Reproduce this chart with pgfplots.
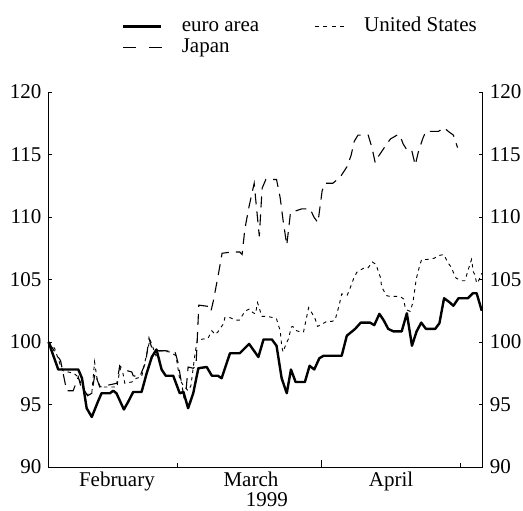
\documentclass[border=0pt]{standalone}
\usepackage{pgfplots}
\pgfplotsset{compat=1.18}
\usepackage{fontspec}
\setmainfont{Liberation Serif}
\newcommand{\bigfont}{\fontsize{21}{25}\selectfont}
\pgfplotsset{
  legA/.style={legend image code/.code={\draw[black, line width=2.4pt] (0pt,0pt) -- (38pt,0pt);}},
  legB/.style={legend image code/.code={\draw[black, line width=0.9pt, dash pattern=on 4pt off 4.5pt] (0pt,0pt) -- (30pt,0pt);}},
  legC/.style={legend image code/.code={\draw[black, line width=1.1pt, dash pattern=on 13pt off 13pt] (0pt,0pt) -- (39pt,0pt);}},
}
\begin{document}
\begin{tikzpicture}
\path[use as bounding box] (-48.5pt,-44pt) rectangle (474.5pt,467pt);
\pgfplotsset{
  common/.style={
    at={(0pt,0pt)}, anchor=south west,
    width=434.2pt, height=375pt, scale only axis,
    xmin=0.4, xmax=93.7, ymin=90, ymax=120,
    ytick={90,95,100,105,110,115,120},
    yticklabel={\rmfamily\pgfmathprintnumber[assume math mode=true]{\tick}},
    tick align=inside,
    major tick length=3.5pt,
    tick style={black, line width=0.7pt},
    axis line style={black, line width=0.8pt},
    tick label style={font=\bigfont},
    /pgf/number format/assume math mode=true,
  }
}
\begin{axis}[common,
  axis x line*=bottom, axis y line*=left,
  xtick={28,89}, xticklabels={},
  extra x ticks={59}, extra x tick labels={},
  extra x tick style={major tick length=7pt},
  yticklabel style={inner sep=0pt, xshift=-7pt},
  clip=false,
  legend columns=2,
  legend cell align=left,
  legend style={draw=none, fill=none, font=\bigfont,
    at={(0.162,1.207)}, anchor=north west,
    nodes={inner sep=0pt, text height=15pt, text depth=5pt},
    row sep=1pt,
    /tikz/every odd column/.append style={column sep=19pt},
    /tikz/every even column/.append style={column sep=55pt},
  },
]
% euro area
\addplot[forget plot, black, line width=2.4pt, line join=round] coordinates {
(0.4,100.0) (2.5,97.8) (6.8,97.8) (7.6,97.1) (8.6,94.7) (9.7,94.0) (11.1,95.3) (11.8,95.9)
(13.6,95.9) (14.3,96.1) (15.0,95.9) (16.6,94.6) (17.5,95.2) (18.6,96.0) (20.4,96.0) (21.5,97.5)
(22.6,98.8) (23.6,99.4) (24.7,97.8) (25.6,97.3) (27.2,97.3) (28.1,96.4) (28.6,95.9) (29.4,96.0)
(30.4,94.7) (31.5,95.9) (32.6,97.9) (34.4,98.0) (35.5,97.3) (36.8,97.3) (37.6,97.1) (39.4,99.1)
(41.5,99.1) (43.5,99.85) (45.5,98.8) (46.6,100.2) (48.4,100.2) (49.4,99.7) (50.5,97.1) (51.6,95.9)
(52.5,97.8) (53.5,96.8) (55.5,96.8) (56.5,98.1) (57.5,97.8) (58.6,98.7) (59.5,98.9) (63.4,98.9)
(64.5,100.5) (66.3,101.05) (67.5,101.55) (69.5,101.55) (70.4,101.35) (71.5,102.25) (72.4,101.75)
(73.4,101.05) (74.5,100.85) (76.3,100.85) (77.4,102.3) (78.5,99.7) (79.5,100.85) (80.5,101.55)
(81.5,101.05) (83.5,101.05) (84.4,101.5) (85.4,103.5) (86.5,103.2) (87.4,102.9) (88.5,103.5)
(90.5,103.5) (91.6,103.9) (92.4,103.9) (93.5,102.5)
};
% United States
\addplot[forget plot, black, line width=0.9pt, dash pattern=on 3.5pt off 4pt] coordinates {
(0.4,100.0) (1.7,99.5) (2.9,98.2) (3.5,97.7) (5.8,97.5) (6.8,97.2) (7.6,96.5) (8.6,95.8) (9.7,95.9)
(10.3,98.4) (10.9,96.9) (11.6,96.4) (13.6,96.4) (15.1,96.4) (15.8,97.9) (16.4,97.5) (16.8,96.7)
(18.3,96.8) (19.3,97.1) (20.4,97.2) (21.3,98.7) (22.2,100.2) (22.9,99.5) (23.5,98.9) (24.3,99.3)
(26.5,99.2) (27.8,98.9) (28.6,97.0) (29.4,96.5) (29.7,96.4) (30.4,96.1) (31.0,96.5) (31.9,99.1)
(32.4,100.2) (33.0,100.2) (34.7,100.3) (35.5,100.9) (36.2,100.6) (36.8,100.8) (37.2,101.05)
(38.0,101.45) (38.3,101.95) (39.4,101.95) (40.5,101.75) (41.4,101.75) (42.1,102.15) (42.6,102.45)
(43.6,102.65) (44.3,102.35) (44.9,102.25) (45.3,103.15) (45.6,102.85) (46.2,102.05) (47.3,102.05)
(48.7,101.95) (49.4,101.85) (49.8,101.35) (50.2,100.9) (50.5,99.7) (50.8,99.2) (51.4,99.8)
(51.9,100.2) (52.6,101.2) (52.9,101.25) (53.4,100.95) (54.5,100.8) (55.2,100.8) (55.9,102.05)
(56.3,102.75) (56.8,102.45) (57.7,101.85) (58.2,101.25) (58.8,101.35) (60.2,101.65) (61.3,101.65)
(62.0,101.75) (62.4,102.35) (62.8,102.85) (63.4,103.85) (64.6,103.75) (65.1,104.2) (65.6,104.7)
(66.1,105.2) (66.7,105.6) (68.1,105.9) (69.0,105.9) (70.0,106.4) (70.4,106.3) (70.8,106.2)
(71.3,105.6) (71.7,105.2) (72.0,104.4) (72.6,104.0) (73.1,103.7) (73.8,103.65) (74.9,103.65)
(75.9,103.65) (76.7,103.45) (77.0,102.85) (77.5,102.55) (78.1,102.45) (78.7,103.15) (79.0,103.9)
(79.4,105.0) (79.8,105.6) (80.3,106.3) (80.6,106.6) (81.7,106.6) (83.3,106.7) (84.1,106.9)
(85.3,107.0) (85.6,106.8) (86.3,106.3) (86.9,106.0) (87.6,105.4) (88.0,105.1) (89.2,104.9)
(89.9,104.9) (90.6,105.8) (91.3,106.6) (91.7,105.6) (92.0,105.4) (92.4,104.7) (92.7,104.8) (93.5,105.5)
};
% Japan
\addplot[forget plot, black, line width=1.1pt, dash pattern=on 11pt off 7pt] coordinates {
(0.4,100.0) (3.0,98.5) (4.3,96.1) (5.7,96.1) (6.8,97.2) (7.4,96.4) (8.0,96.2) (8.8,95.7) (9.7,95.9)
(10.4,97.5) (11.4,96.4) (15.1,96.7) (15.7,98.1) (16.4,97.8) (18.3,97.6) (18.6,97.3) (20.0,97.2)
(21.3,98.4) (22.0,100.3) (22.6,99.5) (23.9,99.3) (25.6,99.3) (27.6,99.2) (28.2,98.4) (28.9,96.9)
(29.5,95.6) (29.9,95.9) (30.4,98.0) (31.5,97.9) (32.1,98.1) (32.7,102.95) (34.7,102.85) (35.3,102.45)
(35.8,103.25) (36.8,105.2) (37.7,107.1) (39.8,107.2) (41.5,107.2) (42.0,107.0) (42.6,109.05)
(43.5,110.85) (44.6,112.7) (44.9,111.5) (45.7,108.45) (46.3,112.3) (47.1,113.0) (49.4,113.0)
(50.2,111.5) (50.8,109.75) (51.6,107.75) (52.4,110.35) (54.8,110.65) (56.6,110.65) (57.5,109.95)
(58.3,109.55) (59.2,112.1) (59.8,112.7) (61.5,112.7) (63.1,113.2) (64.5,114.0) (65.4,114.9)
(66.1,116.05) (66.9,116.55) (69.1,116.55) (69.9,115.55) (70.6,114.35) (71.2,114.8) (73.1,115.85)
(73.9,116.25) (75.3,116.55) (75.9,116.55) (76.6,115.85) (77.7,115.2) (78.5,115.25) (79.2,114.15)
(79.9,115.25) (80.9,116.35) (81.5,116.85) (82.8,116.85) (84.2,116.85) (85.4,117.15) (86.3,116.85)
(87.4,116.55) (88.3,115.55)
};
\addlegendimage{legA}
\addlegendentry{euro area}
\addlegendimage{legB}
\addlegendentry{United States}
\addlegendimage{legC}
\addlegendentry{Japan}
\node[anchor=north, inner sep=0pt, font=\bigfont] at (axis cs:15.1,90) [yshift=-5pt] {February};
\node[anchor=north, inner sep=0pt, font=\bigfont] at (axis cs:43.9,90) [yshift=-5pt] {March};
\node[anchor=north, inner sep=0pt, font=\bigfont] at (axis cs:74.0,90) [yshift=-5pt] {April};
\node[anchor=north, inner sep=0pt, font=\bigfont] at (axis cs:47.3,90) [yshift=-25pt] {1999};
\end{axis}
\begin{axis}[common,
  axis x line=none, axis y line*=right,
  yticklabel style={inner sep=0pt, xshift=7pt},
]
\end{axis}
\end{tikzpicture}
\end{document}
